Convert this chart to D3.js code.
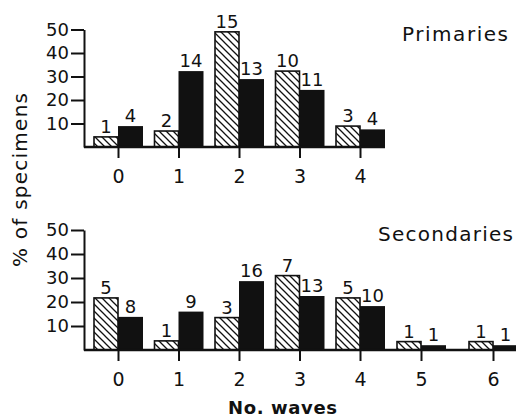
<!DOCTYPE html>
<html>
<head>
<meta charset="utf-8">
<script src="https://cdn.jsdelivr.net/npm/d3@7"></script>
<style>
  body { margin: 0; background: #fff; }
  text { font-family: 'DejaVu Sans', sans-serif; fill: #111; }
</style>
</head>
<body>
<div id="chart"></div>
<script>
// number of waves (categories)
const primCats = [0, 1, 2, 3, 4]
const secCats = [0, 1, 2, 3, 4, 5, 6]

// % of specimens, hatched and solid series
const primHatched = [4.3, 6.8, 49, 32.3, 8.9]
const primSolid = [8.9, 32.3, 28.9, 24.3, 7.5]
const secHatched = [21.7, 3.8, 13.5, 31, 21.7, 3.5, 3.5]
const secSolid = [13.8, 16, 28.7, 22.5, 18.3, 2, 2]

// counts written above bars
const primHatchedN = [1, 2, 15, 10, 3]
const primSolidN = [4, 14, 13, 11, 4]
const secHatchedN = [5, 1, 3, 7, 5, 1, 1]
const secSolidN = [8, 9, 16, 13, 10, 1, 1]

const yTicks = [10, 20, 30, 40, 50]

const width = 516
const height = 420

const svg = d3.select('#chart')
  .append('svg')
  .attr('width', width)
  .attr('height', height)

svg.append('defs')
  .append('pattern')
  .attr('id', 'hatch')
  .attr('patternUnits', 'userSpaceOnUse')
  .attr('width', 7)
  .attr('height', 7)
  .append('path')
  .attr('d', 'M0,0L7,7M-2,5L2,9M5,-2L9,2')
  .attr('stroke', '#111')
  .attr('stroke-width', 1.3)

// the scan spaces the last category a bit wider
const x = d3.scaleLinear()
  .domain([0, 4, 5, 6])
  .range([118, 360, 421, 493])

const axisX = 84
const hatchW = 24
const solidW = 25

const panel = (top, base, right, cats, hatched, solid, hatchedN, solidN, title, titleX, titleLen) => {
  const y = d3.scaleLinear().domain([0, 50]).range([base, top])
  const g = svg.append('g')

  const rows = cats.map((c, i) => ({
    c, h: hatched[i], s: solid[i], hn: hatchedN[i], sn: solidN[i]
  }))

  g.selectAll('.hbar')
    .data(rows)
    .enter().append('rect')
    .attr('x', d => x(d.c) - hatchW)
    .attr('y', d => y(d.h))
    .attr('width', hatchW)
    .attr('height', d => base - y(d.h))
    .attr('fill', 'url(#hatch)')
    .attr('stroke', '#111')
    .attr('stroke-width', 1.6)

  g.selectAll('.sbar')
    .data(rows)
    .enter().append('rect')
    .attr('x', d => x(d.c))
    .attr('y', d => y(d.s))
    .attr('width', solidW)
    .attr('height', d => base - y(d.s))
    .attr('fill', '#111')

  g.selectAll('.hlab')
    .data(rows)
    .enter().append('text')
    .attr('x', d => x(d.c) - hatchW / 2)
    .attr('y', d => y(d.h) - 4)
    .attr('text-anchor', 'middle')
    .attr('font-size', 18)
    .text(d => d.hn)

  g.selectAll('.slab')
    .data(rows)
    .enter().append('text')
    .attr('x', d => x(d.c) + solidW / 2)
    .attr('y', d => y(d.s) - 4)
    .attr('text-anchor', 'middle')
    .attr('font-size', 18)
    .text(d => d.sn)

  // baseline
  g.append('line')
    .attr('x1', axisX)
    .attr('x2', right)
    .attr('y1', base)
    .attr('y2', base)
    .attr('stroke', '#111')
    .attr('stroke-width', 2.5)

  const yAxis = g.append('g')
    .attr('transform', `translate(${axisX},0)`)
    .call(d3.axisLeft(y).tickValues(yTicks).tickSize(13).tickSizeOuter(0).tickPadding(2))
  yAxis.select('.domain').attr('stroke', '#111').attr('stroke-width', 2)
  yAxis.selectAll('.tick line').attr('stroke', '#111').attr('stroke-width', 2)
  yAxis.selectAll('.tick text')
    .attr('font-size', 18)
    .attr('font-family', 'DejaVu Sans, sans-serif')
    .attr('fill', '#111')

  const xAxis = g.append('g')
    .attr('transform', `translate(0,${base})`)
    .call(d3.axisBottom(x).tickValues(cats).tickFormat(d3.format('d')).tickSize(11).tickPadding(12))
  xAxis.select('.domain').remove()
  xAxis.selectAll('.tick line').attr('stroke', '#111').attr('stroke-width', 2)
  xAxis.selectAll('.tick text')
    .attr('font-size', 19)
    .attr('font-family', 'DejaVu Sans, sans-serif')
    .attr('fill', '#111')

  g.append('text')
    .attr('x', titleX)
    .attr('y', top + 11)
    .attr('font-size', 20)
    .attr('textLength', titleLen)
    .attr('lengthAdjust', 'spacing')
    .text(title)
}

panel(29.5, 147, 385, primCats, primHatched, primSolid, primHatchedN, primSolidN, 'Primaries', 402, 106)
panel(230, 350, 520, secCats, secHatched, secSolid, secHatchedN, secSolidN, 'Secondaries', 378, 135)

svg.append('text')
  .attr('transform', 'translate(27,180) rotate(-90)')
  .attr('text-anchor', 'middle')
  .attr('font-size', 20)
  .attr('textLength', 174)
  .attr('lengthAdjust', 'spacing')
  .text('% of specimens')

svg.append('text')
  .attr('x', 228)
  .attr('y', 414)
  .attr('font-size', 18)
  .attr('font-weight', 'bold')
  .attr('textLength', 109)
  .attr('lengthAdjust', 'spacing')
  .text('No. waves')
</script>
</body>
</html>
